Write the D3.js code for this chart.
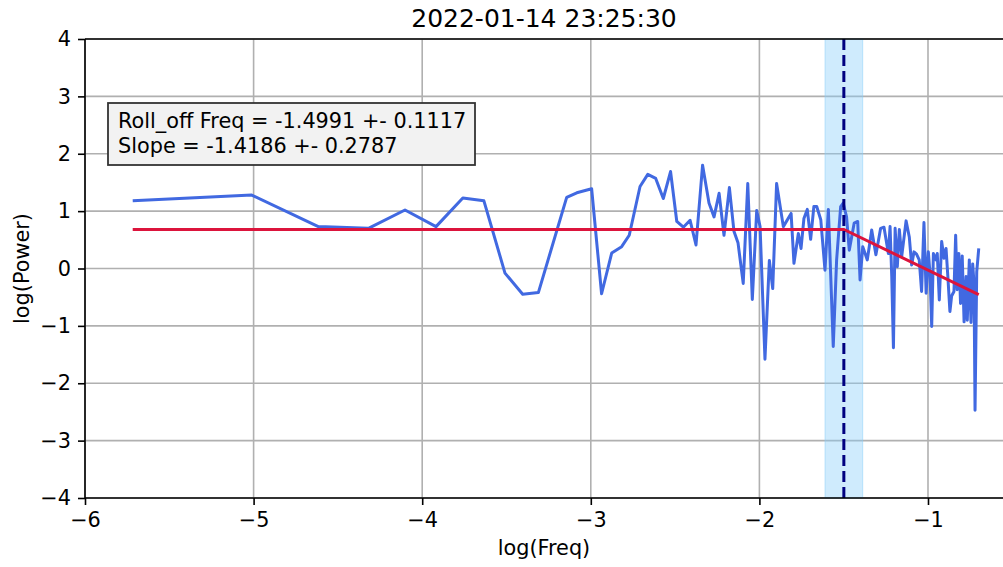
<!DOCTYPE html>
<html>
<head>
<meta charset="utf-8">
<script src="https://cdn.jsdelivr.net/npm/d3@7"></script>
<style>
  body { margin: 0; background: #fff; }
  svg { font-family: "DejaVu Sans", sans-serif; }
</style>
</head>
<body>
<script>
"use strict";
// spectrum
const logFreq = [-5.717, -5.011, -4.616, -4.319, -4.102, -3.918, -3.759, -3.634, -3.509, -3.404,
  -3.311, -3.143, -3.083, -2.995, -2.936, -2.876, -2.817, -2.772, -2.708, -2.662,
  -2.615, -2.570, -2.527, -2.490, -2.451, -2.411, -2.376, -2.337, -2.299, -2.269,
  -2.239, -2.210, -2.178, -2.151, -2.127, -2.096, -2.069, -2.042, -2.016, -1.996,
  -1.967, -1.941, -1.921, -1.898, -1.858, -1.812, -1.795, -1.769, -1.753, -1.736,
  -1.716, -1.696, -1.677, -1.660, -1.636, -1.611, -1.591, -1.562, -1.542, -1.518,
  -1.503, -1.483, -1.467, -1.438, -1.417, -1.403, -1.387, -1.360, -1.334, -1.309,
  -1.281, -1.261, -1.235, -1.225, -1.215, -1.205, -1.195, -1.182, -1.170, -1.156,
  -1.130, -1.111, -1.097, -1.083, -1.068, -1.052, -1.038, -1.024, -1.011, -0.998,
  -0.988, -0.978, -0.968, -0.952, -0.945, -0.933, -0.919, -0.905, -0.893, -0.882,
  -0.870, -0.860, -0.846, -0.836, -0.827, -0.817, -0.807, -0.797, -0.786, -0.774,
  -0.767, -0.755, -0.745, -0.735, -0.727, -0.721, -0.711, -0.699]
const logPower = [1.18, 1.28, 0.73, 0.70, 1.02, 0.73, 1.23, 1.18, -0.08, -0.45,
  -0.42, 1.24, 1.32, 1.39, -0.44, 0.27, 0.38, 0.58, 1.43, 1.64,
  1.57, 1.22, 1.69, 0.82, 0.72, 0.84, 0.41, 1.80, 1.14, 0.90,
  1.31, 0.58, 1.41, 0.65, 0.45, -0.26, 1.48, -0.54, 1.01, 0.73,
  -1.58, 0.14, -0.35, 1.48, 0.73, 0.96, 0.09, 0.61, 0.35, 0.87,
  1.03, 0.51, 1.08, 1.08, 0.85, -0.03, 1.03, -1.36, 0.15, 1.08,
  1.14, 0.90, 0.32, 0.79, 0.82, -0.20, 0.38, 0.15, 0.67, 0.24,
  0.70, 0.72, 0.26, 0.73, -0.14, -1.38, 0.70, 0.03, 0.68, 0.21,
  0.83, 0.55, 0.06, 0.29, 0.25, 0.15, -0.40, 0.80, -0.43, 0.29,
  -0.10, -1.01, 0.26, 0.15, 0.26, -0.55, 0.47, 0.18, 0.35, -0.15,
  -0.75, -0.48, -0.40, 0.58, -0.37, 0.26, -0.61, 0.22, -0.93, -0.14,
  -0.90, 0.15, -0.94, 0.08, -0.26, -2.47, -0.06, 0.35]

// broken power-law fit
const rollOff = -1.4991
const rollOffErr = 0.1117
const slope = -1.4186
const slopeErr = 0.2787
const flatLevel = 0.68

const xTicks = [-6, -5, -4, -3, -2, -1]
const yTicks = [-4, -3, -2, -1, 0, 1, 2, 3, 4]
const title = "2022-01-14 23:25:30"
const legendLines = [
  "Roll_off Freq = " + rollOff.toFixed(4) + " +- " + rollOffErr.toFixed(4),
  "Slope = " + slope.toFixed(4) + " +- " + slopeErr.toFixed(4)
]

let m = { width: 1003, height: 567, left: 85, top: 39, bottom: 498 }
let pxPerUnit = 168.6

const svg = d3.select("body").append("svg")
  .attr("width", m.width)
  .attr("height", m.height)

let xScale = d3.scaleLinear()
  .domain([-6, -0.45])
  .range([m.left, m.left + 5.55 * pxPerUnit])
let yScale = d3.scaleLinear()
  .domain([-4, 4])
  .range([m.bottom, m.top])

const fmt = d => d3.format("d")(d).replace("-", "\u2212")

// grid
const grid = svg.append("g").attr("stroke", "#b0b0b0").attr("stroke-width", 1.6)
grid.selectAll(".gx").data(xTicks).enter().append("line")
  .attr("x1", d => xScale(d)).attr("x2", d => xScale(d))
  .attr("y1", m.top).attr("y2", m.bottom)
grid.selectAll(".gy").data(yTicks).enter().append("line")
  .attr("x1", m.left).attr("x2", xScale.range()[1])
  .attr("y1", d => yScale(d)).attr("y2", d => yScale(d))

// roll-off uncertainty band + marker
svg.append("rect")
  .attr("x", xScale(rollOff - rollOffErr))
  .attr("width", xScale(rollOff + rollOffErr) - xScale(rollOff - rollOffErr))
  .attr("y", m.top)
  .attr("height", m.bottom - m.top)
  .attr("fill", "#87cefa")
  .attr("fill-opacity", 0.4)
  .attr("stroke", "#87cefa")
  .attr("stroke-opacity", 0.5)

let points = logFreq.map((f, i) => [f, logPower[i]])
let line = d3.line()
  .x(d => xScale(d[0]))
  .y(d => yScale(d[1]))

svg.append("path")
  .datum(points)
  .attr("d", line)
  .attr("fill", "none")
  .attr("stroke", "#4169e1")
  .attr("stroke-width", 3)
  .attr("stroke-linejoin", "round")

// fitted model: flat then power law
let xEnd = logFreq[logFreq.length - 1]
let fit = [[logFreq[0], flatLevel], [rollOff, flatLevel], [xEnd, flatLevel + slope * (xEnd - rollOff)]]
svg.append("path")
  .datum(fit)
  .attr("d", line)
  .attr("fill", "none")
  .attr("stroke", "#dc143c")
  .attr("stroke-width", 3)

svg.append("line")
  .attr("x1", xScale(rollOff)).attr("x2", xScale(rollOff))
  .attr("y1", m.top).attr("y2", m.bottom)
  .attr("stroke", "#000080")
  .attr("stroke-width", 3)
  .attr("stroke-dasharray", "11,5")

// axes
svg.append("g")
  .attr("transform", "translate(0," + m.bottom + ")")
  .call(d3.axisBottom(xScale).tickValues(xTicks).tickFormat(fmt).tickSize(7).tickPadding(7))
svg.append("g")
  .attr("transform", "translate(" + m.left + ",0)")
  .call(d3.axisLeft(yScale).tickValues(yTicks).tickFormat(fmt).tickSize(7).tickPadding(7))
svg.selectAll(".domain").remove()
svg.selectAll(".tick line").attr("stroke", "#000").attr("stroke-width", 1.6)
svg.selectAll(".tick text").attr("font-size", "20.8px").attr("fill", "#000")
  .attr("font-family", "DejaVu Sans")

// spines
svg.append("line").attr("x1", m.left).attr("x2", m.width).attr("y1", m.top).attr("y2", m.top)
  .attr("stroke", "#000").attr("stroke-width", 1.6)
svg.append("line").attr("x1", m.left).attr("x2", m.width).attr("y1", m.bottom).attr("y2", m.bottom)
  .attr("stroke", "#000").attr("stroke-width", 1.6)
svg.append("line").attr("x1", m.left).attr("x2", m.left).attr("y1", m.top).attr("y2", m.bottom)
  .attr("stroke", "#000").attr("stroke-width", 1.6)

// text box
const box = svg.append("g")
box.append("rect")
  .attr("x", 108).attr("y", 103).attr("width", 367).attr("height", 62)
  .attr("fill", "#f2f2f2").attr("stroke", "#333").attr("stroke-width", 1.8)
box.selectAll("text").data(legendLines).enter().append("text")
  .attr("x", 118)
  .attr("y", (d, i) => 128 + i * 25)
  .attr("font-size", "20.8px")
  .text(d => d)

svg.append("text")
  .attr("x", 544).attr("y", 27)
  .attr("text-anchor", "middle")
  .attr("font-size", "25px")
  .text(title)
svg.append("text")
  .attr("x", 544).attr("y", 555)
  .attr("text-anchor", "middle")
  .attr("font-size", "20.8px")
  .text("log(Freq)")
svg.append("text")
  .attr("transform", "translate(29," + ((m.top + m.bottom) / 2) + ") rotate(-90)")
  .attr("text-anchor", "middle")
  .attr("font-size", "20.8px")
  .text("log(Power)")
</script>
</body>
</html>
